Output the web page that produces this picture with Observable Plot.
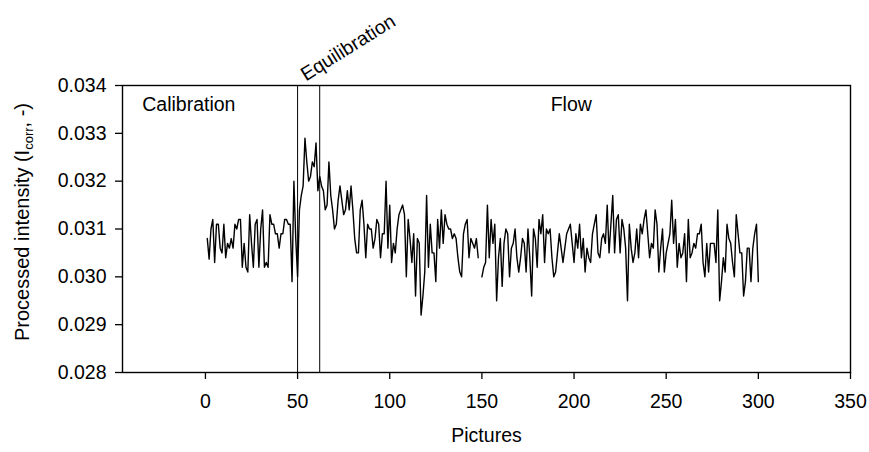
<!DOCTYPE html>
<html><head><meta charset="utf-8">
<script src="https://cdn.jsdelivr.net/npm/d3@7"></script>
<script src="https://cdn.jsdelivr.net/npm/@observablehq/plot@0.6"></script>
<style>
body{margin:0;background:#fff;}
svg{font-family:"Liberation Sans",Arial,sans-serif;}
</style>
</head><body><div id="chart"></div>
<script>
// Processed intensity per picture (picture 149 missing)
const calibration = [0.0308, 0.03037, 0.0310, 0.0312, 0.0303, 0.0311, 0.0311, 0.0306, 0.0305, 0.0311, 0.0304, 0.0307, 0.0306, 0.0308, 0.0306, 0.0311, 0.0310, 0.0312, 0.0312, 0.0302, 0.0307, 0.0302, 0.0301, 0.0313, 0.0307, 0.0302, 0.0311, 0.0312, 0.0302, 0.0310, 0.0314, 0.0302, 0.0303, 0.0302, 0.0313, 0.0311, 0.0311, 0.0309, 0.0309, 0.0306, 0.0309, 0.0309, 0.0312, 0.0312, 0.0311, 0.0311, 0.0299, 0.0320, 0.0308];
const flowA = [0.0300, 0.0314, 0.0317, 0.0319, 0.0329, 0.0324, 0.0320, 0.0321, 0.0324, 0.0323, 0.0328, 0.0318, 0.0321, 0.0319, 0.0318, 0.0314, 0.0315, 0.0324, 0.0317, 0.0314, 0.0310, 0.0311, 0.0316, 0.0319, 0.0316, 0.0313, 0.0314, 0.0318, 0.0314, 0.0319, 0.0314, 0.0308, 0.0305, 0.0305, 0.0314, 0.0316, 0.0311, 0.0304, 0.0311, 0.0310, 0.0310, 0.0306, 0.0308, 0.0312, 0.0311, 0.0304, 0.0309, 0.0309, 0.0320, 0.0306, 0.0315, 0.0303, 0.0307, 0.0305];
const flowB = [0.0310, 0.0313, 0.0314, 0.0315, 0.0313, 0.0300, 0.0312, 0.0308, 0.0303, 0.0309, 0.0296, 0.0308, 0.0307, 0.0292, 0.0296, 0.0301, 0.0317, 0.0302, 0.0311, 0.0305, 0.0305, 0.0299, 0.0312, 0.0306, 0.0314, 0.0307, 0.0313, 0.0311, 0.0310, 0.0310, 0.0308, 0.0309, 0.0308, 0.0304, 0.0301, 0.0300, 0.0309, 0.0311, 0.0312, 0.0304, 0.0308, 0.0307, 0.0306, 0.0308, 0.0304];
const flowC = [0.0300, 0.0302, 0.0303, 0.0315, 0.0304, 0.0312, 0.0307, 0.0311];
const flowD = [0.0295, 0.0304, 0.0308, 0.0298, 0.0307, 0.0310, 0.0309, 0.0300, 0.0306, 0.0307, 0.0310, 0.0304, 0.0301, 0.0304, 0.0308, 0.0307, 0.0301, 0.0310, 0.0304, 0.0296, 0.0310, 0.0308, 0.0302, 0.0312, 0.0309, 0.0313, 0.0303, 0.0310, 0.0309, 0.0310, 0.0304, 0.0300, 0.0301, 0.0305, 0.0309, 0.0306, 0.0303, 0.0306, 0.0309, 0.0310, 0.0311, 0.0307, 0.0303, 0.0309, 0.0306, 0.0311, 0.0304, 0.0308, 0.0301, 0.0306, 0.0304, 0.0303, 0.0309, 0.0311];
const flowE = [0.0313, 0.0305, 0.0304, 0.0308, 0.0309, 0.0307, 0.0315, 0.0305, 0.0311, 0.0317, 0.0305, 0.0312, 0.0313, 0.0305, 0.0312, 0.0310, 0.0306, 0.0295, 0.0311, 0.0306, 0.0303, 0.0305, 0.0310, 0.0304, 0.0311, 0.0309, 0.0312, 0.0314, 0.0309, 0.0304, 0.0307, 0.0306, 0.0314, 0.0311, 0.0301, 0.0306, 0.0310, 0.0301, 0.0305, 0.0307, 0.0309, 0.0316, 0.0307, 0.0312, 0.0302, 0.0307, 0.0304, 0.0305, 0.0309, 0.0299, 0.0312, 0.0304, 0.0305, 0.0307];
const flowF = [0.0306, 0.0309, 0.0309, 0.0311, 0.0303, 0.0300, 0.0307, 0.0301, 0.0307, 0.0307, 0.0307, 0.0303, 0.0314, 0.0295, 0.0299, 0.0304, 0.0301, 0.0311, 0.0308, 0.0307, 0.0303, 0.0300, 0.0313, 0.0309, 0.0305, 0.0305, 0.0296, 0.0299, 0.0306, 0.0306, 0.0299, 0.0306, 0.0309, 0.0311, 0.0299];

const intensity = [...calibration, ...flowA, ...flowB, null, ...flowC, ...flowD, ...flowE, ...flowF];
const pictures = intensity.map((_, i) => i + 1);

const phaseBounds = [50, 62];
const phaseLabels = ["Calibration", "Equilibration", "Flow"];
const phaseLabelX = [-9, 54.5, 198.5];
const xTicks = [0, 50, 100, 150, 200, 250, 300, 350];
const yTicks = [0.028, 0.029, 0.030, 0.031, 0.032, 0.033, 0.034];

const data = pictures.map((p, i) => ({picture: p, value: intensity[i]}));
const FS = 19.5;

const chart = Plot.plot({
  width: 869,
  height: 452,
  marginLeft: 122,
  marginRight: 19,
  marginTop: 85,
  marginBottom: 80,
  style: {fontSize: FS + "px", fontFamily: "'Liberation Sans', Arial, sans-serif", color: "black", background: "white"},
  x: {domain: [-45, 350]},
  y: {domain: [0.028, 0.034]},
  marks: [
    Plot.ruleX(phaseBounds, {stroke: "black", strokeWidth: 1}),
    Plot.lineY(data, {x: "picture", y: "value", stroke: "black", strokeWidth: 1.4}),
    Plot.frame({stroke: "black", strokeWidth: 1.4}),
    Plot.axisX({ticks: xTicks, tickSize: 7, tickPadding: 15, label: null, strokeWidth: 1.3, fontSize: FS}),
    Plot.axisY({ticks: yTicks, tickSize: 7, tickPadding: 9, tickFormat: d3.format(".3f"), label: null, strokeWidth: 1.3, fontSize: FS}),
    Plot.text([phaseLabels[0], phaseLabels[2]], {x: (d) => phaseLabelX[phaseLabels.indexOf(d)], y: 0.034, text: (d) => d, dy: 19, fontSize: FS}),
    Plot.text([phaseLabels[1]], {x: phaseLabelX[1], y: 0.034, text: (d) => d, textAnchor: "start", lineAnchor: "bottom", rotate: -32, dy: -4, fontSize: FS}),
    Plot.text(["Pictures"], {frameAnchor: "bottom", dy: 69, text: (d) => d, fontSize: FS})
  ]
});

const svg = d3.select(chart);
const yl = svg.append("text")
  .attr("transform", "translate(29,222) rotate(-90)")
  .attr("text-anchor", "middle")
  .attr("font-size", 20)
  .attr("fill", "black");
yl.append("tspan").text("Processed intensity (I");
yl.append("tspan").attr("font-size", 13).attr("dy", 4).text("corr");
yl.append("tspan").attr("dy", -4).text(", -)");

document.getElementById("chart").appendChild(chart);
</script>
</body></html>
